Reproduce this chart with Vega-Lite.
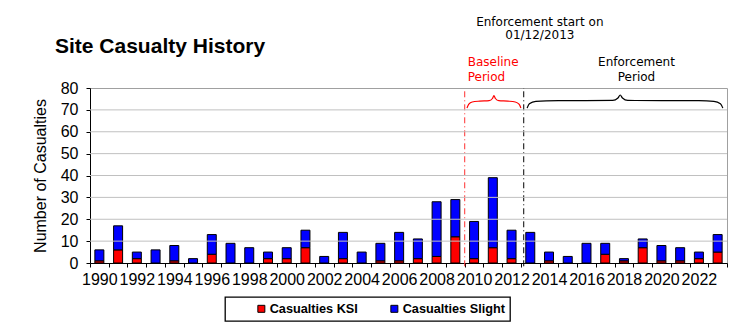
{
  "$schema": "https://vega.github.io/schema/vega-lite/v6.json",
  "width": 637,
  "height": 175,
  "autosize": {"type": "none"},
  "padding": {"left": 90, "top": 88, "right": 12, "bottom": 71},
  "background": "white",
  "title": {
    "text": "Site Casualty History",
    "anchor": "start",
    "frame": "group",
    "font": "Liberation Sans",
    "fontSize": 21,
    "fontWeight": "bold",
    "color": "black",
    "baseline": "alphabetic",
    "dx": -35,
    "dy": 88,
    "offset": 30
  },
  "config": {
    "view": {"stroke": "#a0a0a0", "strokeWidth": 1},
    "legend": {
      "orient": "none",
      "legendX": 135,
      "legendY": 209,
      "direction": "horizontal",
      "padding": 5,
      "strokeColor": "black",
      "strokeWidth": 1.3,
      "fillColor": "white",
      "symbolType": "square",
      "symbolSize": 49,
      "symbolStrokeColor": "black",
      "symbolStrokeWidth": 1,
      "symbolOffset": 25,
      "labelFont": "Liberation Sans",
      "labelFontWeight": "bold",
      "labelFontSize": 12.7,
      "labelColor": "black",
      "labelOffset": 2,
      "columnPadding": 5
    }
  },
  "layer": [
    {
      "layer": [
        {
          "data": {"values": [{}]},
          "mark": {"type": "rule", "color": "#FF3030", "strokeDash": [6, 3, 1, 3], "strokeWidth": 1},
          "encoding": {
            "x": {"datum": 2009.5, "type": "quantitative", "scale": {"domain": [1989.5, 2023.5]}, "axis": null},
            "y": {"datum": -1.5, "type": "quantitative", "scale": {"domain": [0, 80]}, "axis": null},
            "y2": {"datum": 78.5}
          }
        },
        {
          "data": {"values": [{}]},
          "mark": {"type": "rule", "color": "black", "strokeDash": [6, 3, 1, 3], "strokeWidth": 1},
          "encoding": {
            "x": {"datum": 2012.65, "type": "quantitative", "scale": {"domain": [1989.5, 2023.5]}, "axis": null},
            "y": {"datum": -1.5, "type": "quantitative", "scale": {"domain": [0, 80]}, "axis": null},
            "y2": {"datum": 80}
          }
        },
        {
          "data": {
            "values": [
              {"bx": 2009.62, "by": 70.9},
              {"bx": 2009.72, "by": 72.6},
              {"bx": 2009.9, "by": 73.6},
              {"bx": 2010.3, "by": 74.0},
              {"bx": 2010.8, "by": 74.2},
              {"bx": 2010.98, "by": 75.2},
              {"bx": 2011.06, "by": 76.5},
              {"bx": 2011.14, "by": 75.2},
              {"bx": 2011.32, "by": 74.2},
              {"bx": 2011.8, "by": 74.0},
              {"bx": 2012.2, "by": 73.6},
              {"bx": 2012.4, "by": 72.6},
              {"bx": 2012.5, "by": 70.9}
            ]
          },
          "mark": {"type": "line", "color": "#FF0000", "strokeWidth": 1.2, "interpolate": "monotone"},
          "encoding": {
            "x": {"field": "bx", "type": "quantitative", "scale": {"domain": [1989.5, 2023.5]}, "axis": null},
            "y": {"field": "by", "type": "quantitative", "scale": {"domain": [0, 80]}, "axis": null}
          }
        },
        {
          "data": {
            "values": [
              {"bx": 2012.83, "by": 70.8},
              {"bx": 2012.95, "by": 72.8},
              {"bx": 2013.3, "by": 73.9},
              {"bx": 2014.5, "by": 74.2},
              {"bx": 2017.4, "by": 74.3},
              {"bx": 2017.68, "by": 75.4},
              {"bx": 2017.8, "by": 76.8},
              {"bx": 2017.92, "by": 75.4},
              {"bx": 2018.2, "by": 74.3},
              {"bx": 2022.0, "by": 74.2},
              {"bx": 2022.8, "by": 73.9},
              {"bx": 2023.15, "by": 72.8},
              {"bx": 2023.28, "by": 70.8}
            ]
          },
          "mark": {"type": "line", "color": "black", "strokeWidth": 1.2, "interpolate": "monotone"},
          "encoding": {
            "x": {"field": "bx", "type": "quantitative", "scale": {"domain": [1989.5, 2023.5]}, "axis": null},
            "y": {"field": "by", "type": "quantitative", "scale": {"domain": [0, 80]}, "axis": null}
          }
        },
        {
          "data": {"values": [{}]},
          "mark": {"type": "text", "text": ["Enforcement start on", "01/12/2013"], "font": "DejaVu Sans", "fontSize": 12, "lineHeight": 12.6, "align": "center", "baseline": "middle", "color": "black"},
          "encoding": {
            "x": {"datum": 2013.51, "type": "quantitative", "scale": {"domain": [1989.5, 2023.5]}, "axis": null},
            "y": {"datum": 110.1, "type": "quantitative", "scale": {"domain": [0, 80]}, "axis": null}
          }
        },
        {
          "data": {"values": [{}]},
          "mark": {"type": "text", "text": ["Baseline", "Period"], "font": "DejaVu Sans", "fontSize": 12, "lineHeight": 14.7, "align": "left", "baseline": "middle", "color": "#FF0000"},
          "encoding": {
            "x": {"datum": 2009.66, "type": "quantitative", "scale": {"domain": [1989.5, 2023.5]}, "axis": null},
            "y": {"datum": 91.7, "type": "quantitative", "scale": {"domain": [0, 80]}, "axis": null}
          }
        },
        {
          "data": {"values": [{}]},
          "mark": {"type": "text", "text": ["Enforcement", "Period"], "font": "DejaVu Sans", "fontSize": 12, "lineHeight": 15, "align": "center", "baseline": "middle", "color": "black"},
          "encoding": {
            "x": {"datum": 2018.67, "type": "quantitative", "scale": {"domain": [1989.5, 2023.5]}, "axis": null},
            "y": {"datum": 91.7, "type": "quantitative", "scale": {"domain": [0, 80]}, "axis": null}
          }
        }
      ]
    },
    {
      "data": {
        "values": [
          {"year": 1990, "Casualties KSI": 1, "Casualties Slight": 5},
          {"year": 1991, "Casualties KSI": 6, "Casualties Slight": 11},
          {"year": 1992, "Casualties KSI": 2, "Casualties Slight": 3},
          {"year": 1993, "Casualties KSI": 0, "Casualties Slight": 6},
          {"year": 1994, "Casualties KSI": 1, "Casualties Slight": 7},
          {"year": 1995, "Casualties KSI": 0, "Casualties Slight": 2},
          {"year": 1996, "Casualties KSI": 4, "Casualties Slight": 9},
          {"year": 1997, "Casualties KSI": 0, "Casualties Slight": 9},
          {"year": 1998, "Casualties KSI": 0, "Casualties Slight": 7},
          {"year": 1999, "Casualties KSI": 2, "Casualties Slight": 3},
          {"year": 2000, "Casualties KSI": 2, "Casualties Slight": 5},
          {"year": 2001, "Casualties KSI": 7, "Casualties Slight": 8},
          {"year": 2002, "Casualties KSI": 0, "Casualties Slight": 3},
          {"year": 2003, "Casualties KSI": 2, "Casualties Slight": 12},
          {"year": 2004, "Casualties KSI": 0, "Casualties Slight": 5},
          {"year": 2005, "Casualties KSI": 1, "Casualties Slight": 8},
          {"year": 2006, "Casualties KSI": 1, "Casualties Slight": 13},
          {"year": 2007, "Casualties KSI": 2, "Casualties Slight": 9},
          {"year": 2008, "Casualties KSI": 3, "Casualties Slight": 25},
          {"year": 2009, "Casualties KSI": 12, "Casualties Slight": 17},
          {"year": 2010, "Casualties KSI": 2, "Casualties Slight": 17},
          {"year": 2011, "Casualties KSI": 7, "Casualties Slight": 32},
          {"year": 2012, "Casualties KSI": 2, "Casualties Slight": 13},
          {"year": 2013, "Casualties KSI": 0, "Casualties Slight": 14},
          {"year": 2014, "Casualties KSI": 1, "Casualties Slight": 4},
          {"year": 2015, "Casualties KSI": 0, "Casualties Slight": 3},
          {"year": 2016, "Casualties KSI": 0, "Casualties Slight": 9},
          {"year": 2017, "Casualties KSI": 4, "Casualties Slight": 5},
          {"year": 2018, "Casualties KSI": 1, "Casualties Slight": 1},
          {"year": 2019, "Casualties KSI": 7, "Casualties Slight": 4},
          {"year": 2020, "Casualties KSI": 1, "Casualties Slight": 7},
          {"year": 2021, "Casualties KSI": 1, "Casualties Slight": 6},
          {"year": 2022, "Casualties KSI": 2, "Casualties Slight": 3},
          {"year": 2023, "Casualties KSI": 5, "Casualties Slight": 8}
        ]
      },
      "transform": [
        {"fold": ["Casualties KSI", "Casualties Slight"], "as": ["series", "count"]}
      ],
      "mark": {"type": "bar", "width": {"band": 0.48}, "stroke": "black", "strokeWidth": 1},
      "encoding": {
        "x": {
          "field": "year",
          "type": "ordinal",
          "scale": {"paddingInner": 0, "paddingOuter": 0},
          "axis": {
            "title": null,
            "labelAngle": 0,
            "labelExpr": "datum.value % 2 == 0 ? datum.label : ''",
            "labelOverlap": false,
            "labelBound": false,
            "tickBand": "extent",
            "domainColor": "black",
            "tickColor": "black",
            "tickSize": 4,
            "labelFont": "Liberation Sans",
            "labelFontSize": 16,
            "labelColor": "black",
            "labelPadding": 4
          }
        },
        "y": {
          "field": "count",
          "type": "quantitative",
          "stack": "zero",
          "scale": {"domain": [0, 80]},
          "axis": {
            "title": "Number of Casualties",
            "values": [0, 10, 20, 30, 40, 50, 60, 70, 80],
            "grid": false,
            "labelOverlap": false,
            "domainColor": "black",
            "tickColor": "black",
            "tickSize": 4,
            "labelFont": "Liberation Sans",
            "labelFontSize": 16,
            "labelColor": "black",
            "labelPadding": 8,
            "titleFont": "Liberation Sans",
            "titleFontSize": 16,
            "titleFontWeight": "normal",
            "titleColor": "black",
            "titlePadding": 12
          }
        },
        "color": {
          "field": "series",
          "type": "nominal",
          "scale": {"domain": ["Casualties KSI", "Casualties Slight"], "range": ["#FF0000", "#0000FF"]},
          "legend": {"title": null}
        },
        "order": {"field": "series", "sort": "ascending"}
      }
    },
    {
      "data": {"values": [{"g": 10}, {"g": 20}, {"g": 30}, {"g": 40}, {"g": 50}, {"g": 60}, {"g": 70}]},
      "mark": {"type": "rule", "color": "#c0c0c0", "strokeWidth": 1},
      "encoding": {
        "y": {"field": "g", "type": "quantitative", "scale": {"domain": [0, 80]}, "axis": null}
      }
    }
  ],
  "resolve": {"scale": {"x": "independent", "y": "independent"}}
}
